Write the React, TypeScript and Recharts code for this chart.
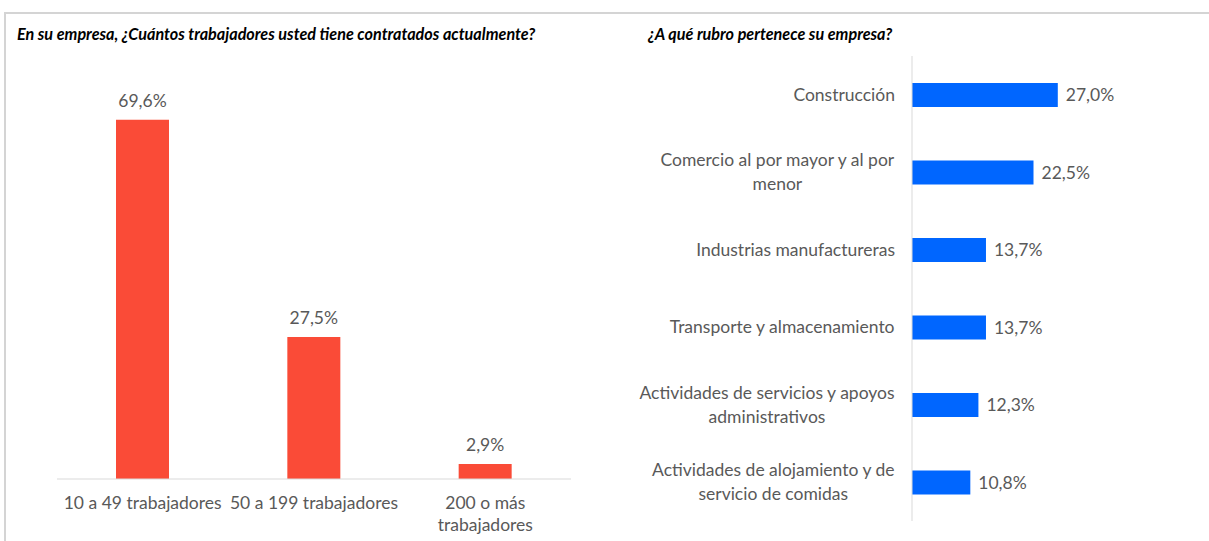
import { BarChart, Bar, XAxis, YAxis, LabelList } from 'recharts';

const sizeCategories = ['10 a 49 trabajadores', '50 a 199 trabajadores', '200 o más\ntrabajadores'];
const sizeValues = [69.6, 27.5, 2.9];

const sectorCategories = [
  'Construcción',
  'Comercio al por mayor y al por\nmenor',
  'Industrias manufactureras',
  'Transporte y almacenamiento',
  'Actividades de servicios y apoyos\nadministrativos',
  'Actividades de alojamiento y de\nservicio de comidas',
];
const sectorValues = [27.0, 22.5, 13.7, 13.7, 12.3, 10.8];

const sizeData = sizeCategories.map((name, i) => ({ name, value: sizeValues[i] }));
const sectorData = sectorCategories.map((name, i) => ({ name, value: sectorValues[i] }));

const FONT = 'Lato, "Noto Sans", sans-serif';
const FS = 17.5;
const TEXT = '#595959';
const RED = '#FA4B37';
const BLUE = '#0066FF';
const AXIS = '#d9d9d9';

const pct = (v: any) => Number(v).toFixed(1).replace('.', ',') + '%';

let ctx: CanvasRenderingContext2D | null = null;
const measure = (s: string) => {
  if (!ctx) ctx = document.createElement('canvas').getContext('2d');
  if (!ctx) return s.length * FS * 0.5;
  ctx.font = `${FS}px Lato`;
  return ctx.measureText(s).width;
};

const XTick = (props: any) => {
  const { x, y, payload } = props;
  const lines = String(payload.value).split('\n');
  return (
    <text x={x} y={y} textAnchor="middle" fill={TEXT} fontSize={FS} fontFamily={FONT}>
      {lines.map((l, i) => (
        <tspan key={i} x={x} dy={i === 0 ? 18 : 22}>{l}</tspan>
      ))}
    </text>
  );
};

// multi-line labels: centred block, right edge against the axis
const YTick = (props: any) => {
  const { x, y, payload } = props;
  const lines = String(payload.value).split('\n');
  const lh = 24;
  const start = -((lines.length - 1) * lh) / 2 + 6;
  const w = Math.max(...lines.map(measure));
  const cx = x - w / 2;
  return (
    <text x={cx} y={y} textAnchor="middle" fill={TEXT} fontSize={FS} fontFamily={FONT}>
      {lines.map((l, i) => (
        <tspan key={i} x={cx} dy={i === 0 ? start : lh}>{l}</tspan>
      ))}
    </text>
  );
};

const titleStyle: React.CSSProperties = {
  position: 'absolute',
  top: 24,
  fontFamily: FONT,
  fontSize: 16.2,
  fontWeight: 700,
  fontStyle: 'italic',
  color: '#000',
  whiteSpace: 'nowrap',
};

export default function App() {
  return (
    <div style={{ position: 'absolute', left: 0, top: 0, width: 1209, height: 541, overflow: 'hidden', background: '#fff' }}>
      {/* frame */}
      <div style={{ position: 'absolute', left: 4, top: 12, width: 1220, height: 560, border: '2px solid #d4d4d4', boxSizing: 'border-box' }} />

      <div style={{ ...titleStyle, left: 17 }}>En su empresa, ¿Cuántos trabajadores usted tiene contratados actualmente?</div>
      <div style={{ ...titleStyle, left: 648 }}>¿A qué rubro pertenece su empresa?</div>

      <div style={{ position: 'absolute', left: 0, top: 0 }}>
        <BarChart width={600} height={541} data={sizeData} margin={{ top: 66, right: 29, left: 57, bottom: 12 }}>
          <XAxis
            dataKey="name"
            height={50}
            interval={0}
            tickLine={false}
            tickSize={0}
            tickMargin={12}
            axisLine={{ stroke: AXIS, strokeWidth: 1 }}
            tick={<XTick />}
          />
          <YAxis hide domain={[0, 80]} />
          <Bar dataKey="value" fill={RED} barSize={53} isAnimationActive={false}>
            <LabelList dataKey="value" position="top" offset={13} formatter={pct} fill={TEXT} fontSize={FS} fontFamily={FONT} />
          </Bar>
        </BarChart>
      </div>

      <div style={{ position: 'absolute', left: 600, top: 0 }}>
        <BarChart
          layout="vertical"
          width={609}
          height={541}
          data={sectorData}
          margin={{ top: 56, right: 135, left: 0, bottom: 20 }}
        >
          <XAxis type="number" hide domain={[0, 30]} />
          <YAxis
            type="category"
            dataKey="name"
            width={312}
            interval={0}
            tickLine={false}
            tickSize={0}
            tickMargin={17}
            axisLine={{ stroke: AXIS, strokeWidth: 1 }}
            tick={<YTick />}
          />
          <Bar dataKey="value" fill={BLUE} barSize={24} isAnimationActive={false}>
            <LabelList dataKey="value" position="right" offset={8} formatter={pct} fill={TEXT} fontSize={FS} fontFamily={FONT} />
          </Bar>
        </BarChart>
      </div>
    </div>
  );
}
